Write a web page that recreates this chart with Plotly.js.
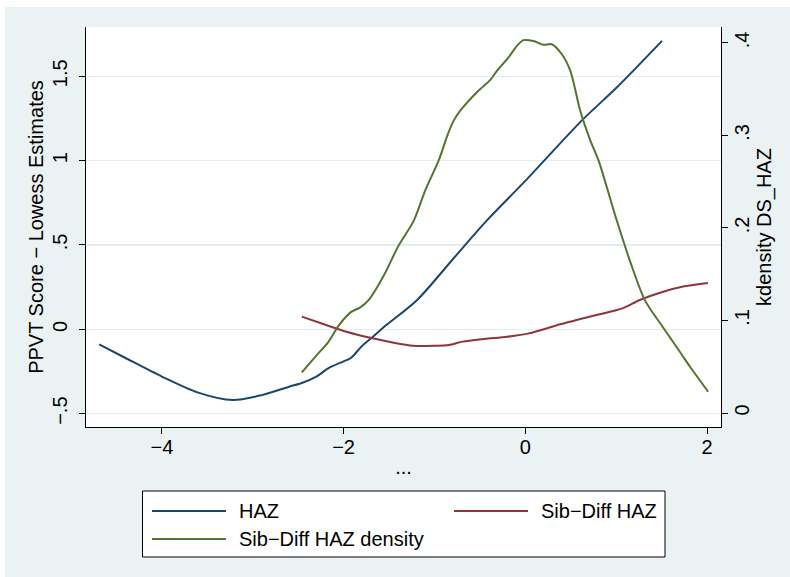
<!DOCTYPE html>
<html>
<head>
<meta charset="utf-8">
<script src="https://cdn.plot.ly/plotly-3.0.1.min.js"></script>
<style>
  html, body { margin: 0; padding: 0; background: #ffffff; }
  #chart { position: absolute; left: 5px; top: 7px; width: 785px; height: 570px; }
</style>
</head>
<body>
<div id="chart"></div>
<script>
// ---- Data ----
const hazX = [-4.69, -4.4, -4.0, -3.6, -3.22, -2.9, -2.6, -2.46, -2.3, -2.165, -2.0, -1.92, -1.8, -1.68, -1.53, -1.19, -0.8, -0.42, 0, 0.626, 1.0, 1.505];
const hazY = [-0.089, -0.17, -0.28, -0.375, -0.419, -0.39, -0.34, -0.318, -0.28, -0.23, -0.19, -0.17, -0.10, -0.045, 0.025, 0.174, 0.414, 0.647, 0.88, 1.24, 1.43, 1.71];

const sibX = [-2.46, -2.2, -1.97, -1.68, -1.45, -1.234, -1.0, -0.84, -0.69, -0.45, -0.2, 0.04, 0.385, 0.78, 1.07, 1.26, 1.5, 1.75, 2.01];
const sibY = [0.075, 0.027, -0.014, -0.053, -0.079, -0.097, -0.097, -0.093, -0.073, -0.057, -0.044, -0.024, 0.03, 0.085, 0.124, 0.174, 0.22, 0.255, 0.275];

const densX = [-2.46, -2.3, -2.166, -2.05, -1.92, -1.82, -1.725, -1.55, -1.4, -1.227, -1.1, -0.953, -0.85, -0.788, -0.714, -0.53, -0.385, -0.31, -0.18, -0.09, -0.02, 0.09, 0.2, 0.29, 0.4, 0.495, 0.604, 0.714, 0.806, 1.007, 1.15, 1.316, 1.513, 1.703, 1.813, 2.013];
const densY = [0.044, 0.062, 0.077, 0.095, 0.109, 0.114, 0.122, 0.15, 0.18, 0.208, 0.241, 0.273, 0.302, 0.316, 0.327, 0.347, 0.360, 0.370, 0.385, 0.397, 0.403, 0.402, 0.398, 0.3985, 0.388, 0.370, 0.327, 0.295, 0.273, 0.208, 0.165, 0.122, 0.093, 0.066, 0.05, 0.023];

const seriesNames = ['HAZ', 'Sib\u2212Diff HAZ', 'Sib\u2212Diff HAZ density'];

const xTickVals = [-4, -2, 0, 2];
const xTickText = ['\u22124', '\u22122', '0', '2'];
const yTickVals = [-0.5, 0, 0.5, 1, 1.5];
const yTickText = ['\u2212.5', '0', '.5', '1', '1.5'];
const y2TickVals = [0, 0.1, 0.2, 0.3, 0.4];
const y2TickText = ['0', '.1', '.2', '.3', '.4'];

const xTitle = '...';
const yTitle = 'PPVT Score \u2212 Lowess Estimates';
const y2Title = 'kdensity DS_HAZ';

// ---- Styles ----
const colors = ['#1a476f', '#90353b', '#55752f'];
const FONT = 'Liberation Sans, Arial, Helvetica, sans-serif';
const BG = '#eaf2f3';

const traces = [
  { x: hazX, y: hazY, name: seriesNames[0], type: 'scatter', mode: 'lines', yaxis: 'y',
    line: { color: colors[0], width: 2, shape: 'spline', smoothing: 0.8 }, showlegend: false },
  { x: sibX, y: sibY, name: seriesNames[1], type: 'scatter', mode: 'lines', yaxis: 'y',
    line: { color: colors[1], width: 2, shape: 'spline', smoothing: 0.8 }, showlegend: false },
  { x: densX, y: densY, name: seriesNames[2], type: 'scatter', mode: 'lines', yaxis: 'y2',
    line: { color: colors[2], width: 2, shape: 'spline', smoothing: 0.8 }, showlegend: false }
];

// plot area in absolute px: x 86..721, y 27..427
const PX0 = 86, PX1 = 721, PY0 = 27, PY1 = 427;
function px(x) { return (x - PX0) / (PX1 - PX0); }
function py(y) { return (PY1 - y) / (PY1 - PY0); }

// manual legend (Stata style)
const legendItems = [
  { lx0: 152, lx1: 226, ty: 511, tx: 237 },
  { lx0: 454, lx1: 528, ty: 511, tx: 539 },
  { lx0: 152, lx1: 226, ty: 539, tx: 237 }
];
const shapes = [
  { type: 'rect', xref: 'paper', yref: 'paper', x0: px(142.5), x1: px(665), y0: py(557), y1: py(491),
    fillcolor: '#ffffff', line: { color: '#000000', width: 1 } }
];
const annotations = [];
legendItems.forEach((it, i) => {
  shapes.push({ type: 'line', xref: 'paper', yref: 'paper', x0: px(it.lx0), x1: px(it.lx1), y0: py(it.ty), y1: py(it.ty),
    line: { color: colors[i], width: 2 } });
  annotations.push({ xref: 'paper', yref: 'paper', x: px(it.tx), y: py(it.ty), xanchor: 'left', yanchor: 'middle',
    text: seriesNames[i], showarrow: false, font: { family: FONT, size: 20, color: '#000000' } });
});

const axisCommon = {
  showline: true, linecolor: '#000000', linewidth: 1,
  ticks: 'outside', ticklen: 6, tickwidth: 1, tickcolor: '#000000',
  zeroline: false,
  tickfont: { family: FONT, size: 20, color: '#000000' }
};

const layout = {
  width: 785, height: 570,
  margin: { l: PX0 - 5, r: 790 - PX1, t: PY0 - 7, b: 577 - PY1 },
  paper_bgcolor: BG, plot_bgcolor: '#ffffff',
  font: { family: FONT, size: 20, color: '#000000' },
  showlegend: false,
  xaxis: Object.assign({}, axisCommon, {
    range: [-4.835, 2.154], tickmode: 'array', tickvals: xTickVals, ticktext: xTickText,
    showgrid: false, ticklabelstandoff: -4,
    title: { text: xTitle, font: { family: FONT, size: 20, color: '#000000' }, standoff: 2 }
  }),
  yaxis: Object.assign({}, axisCommon, {
    range: [-0.579, 1.792], tickmode: 'array', tickvals: yTickVals, ticktext: yTickText,
    tickangle: -90, showgrid: true, gridcolor: '#e3ecee', gridwidth: 1.5, ticklabelstandoff: 4,
    title: { text: yTitle, font: { family: FONT, size: 20, color: '#000000' }, standoff: 0 }
  }),
  yaxis2: Object.assign({}, axisCommon, {
    range: [-0.0151, 0.4172], tickmode: 'array', tickvals: y2TickVals, ticktext: y2TickText,
    tickangle: -90, showgrid: false, overlaying: 'y', side: 'right', ticklabelstandoff: -3,
    title: { text: y2Title, font: { family: FONT, size: 20, color: '#000000' }, standoff: 3 }
  }),
  shapes: shapes,
  annotations: annotations
};

Plotly.newPlot('chart', traces, layout, { staticPlot: true, displayModeBar: false });
</script>
</body>
</html>
